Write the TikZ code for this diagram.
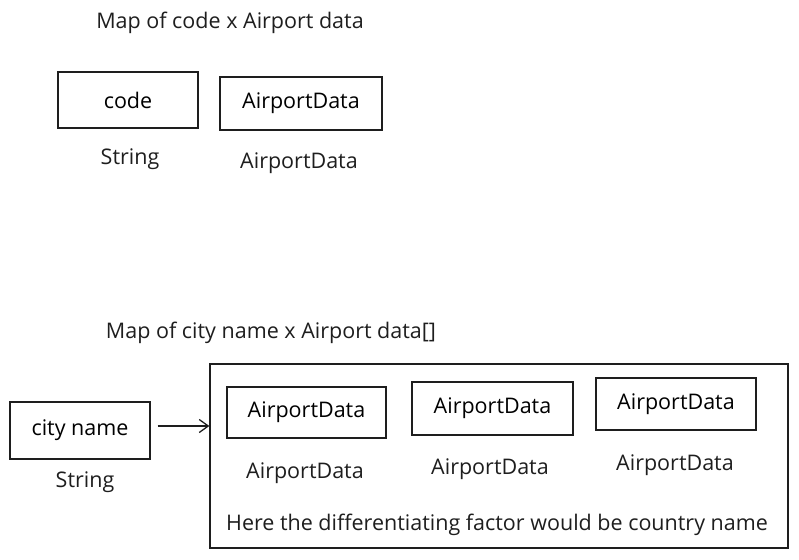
\documentclass[tikz,border=0pt]{standalone}
\usepackage{fontspec}
\setmainfont{Open Sans}
\usetikzlibrary{arrows.meta}
\definecolor{ink}{HTML}{1E1E1E}
\tikzset{
    box/.style = {
    	draw=ink,
    	line width=1.3pt,
    	inner sep=0pt
    },
    caption/.style = {
    	text=ink,
    	inner sep=0pt
    },
    link/.style = {
    	draw=ink,
    	line width=1.3pt,
    	-{Straight Barb[length=9pt,width=13pt]}
    }
}

\begin{document}
\begin{tikzpicture}[x=1pt,y=-1pt,every node/.append style={font=\fontsize{21.5}{25}\selectfont}]

	% Bounding area
	\useasboundingbox (0,0) rectangle (799,559);

	% First map: code -> AirportData
	\node[caption] (title1) at (230,23) {Map of code x Airport data};

	\node[box, minimum width=140pt, minimum height=56pt] (code) at (128,100) {code};
	\node[box, minimum width=162pt, minimum height=53pt] (data) at (301,103.5) {AirportData};

	\node[caption] (codetype) at (130,159) {String};
	\node[caption] (datatype) at (299,163) {AirportData};

	% Second map: city name -> list of AirportData
	\node[caption] (title2) at (271,333) {Map of city name x Airport data[]};

	\node[box, minimum width=140pt, minimum height=57pt] (city) at (80,430.5) {city name};
	\node[caption] (citytype) at (85,482) {String};

	\node[box, minimum width=578pt, minimum height=184pt] (list) at (499,456) {};

	\node[box, minimum width=159pt, minimum height=51pt] (item1) at (306.5,412.5) {AirportData};
	\node[box, minimum width=161pt, minimum height=53pt] (item2) at (492.5,408.5) {AirportData};
	\node[box, minimum width=160pt, minimum height=52pt] (item3) at (676,404) {AirportData};

	\node[caption] (itemtype1) at (305,473) {AirportData};
	\node[caption] (itemtype2) at (490,469) {AirportData};
	\node[caption] (itemtype3) at (675,465) {AirportData};

	\node[caption] (note) at (497,525) {Here the differentiating factor would be country name};

	% Arrow
	\draw[link, shorten <=7pt] (city.east |- 0,426) -- (list.west |- 0,426);

\end{tikzpicture}
\end{document}
